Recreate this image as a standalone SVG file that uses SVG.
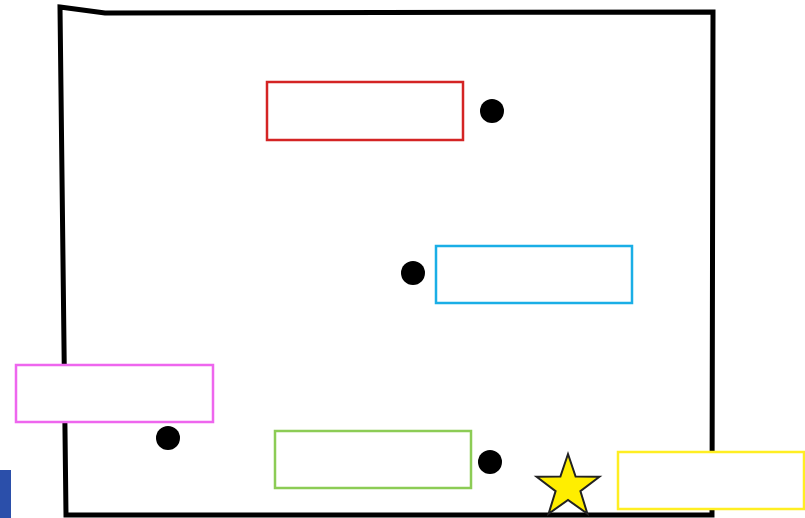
<svg xmlns="http://www.w3.org/2000/svg" width="805" height="518" viewBox="0 0 805 518">
<style>
.box{fill:#fff;stroke-width:2.5}
.dot{fill:#000}
</style>
<rect width="805" height="518" fill="#fff"/>
<g id="outline">
<path d="M60,7 L105,13 L713,12 L712,515 L66,515 Z" fill="none" stroke="#000" stroke-width="5" stroke-linejoin="miter"/>
</g>
<g id="edge-block"><rect x="0" y="470" width="11" height="48" fill="#2b4faa"/></g>
<g id="red"><rect class="box" x="267" y="82" width="196" height="58" stroke="#d42424"/></g>
<g id="dot1"><circle class="dot" cx="492" cy="111" r="12"/></g>
<g id="blue"><rect class="box" x="436" y="246" width="196" height="57" stroke="#1aaee6"/></g>
<g id="dot2"><circle class="dot" cx="413" cy="273" r="12"/></g>
<g id="magenta"><rect class="box" x="16" y="365" width="197" height="57" stroke="#ee66ee"/></g>
<g id="dot3"><circle class="dot" cx="168" cy="438" r="12"/></g>
<g id="green"><rect class="box" x="275" y="431" width="196" height="57" stroke="#8ccc55"/></g>
<g id="dot4"><circle class="dot" cx="490" cy="462" r="12"/></g>
<g id="star"><polygon points="568,454 575.6,476.5 599.4,476.8 580.4,491.1 587.4,513.7 568,500 548.6,513.7 555.6,491.1 536.6,476.8 560.4,476.5" fill="#ffee00" stroke="#222" stroke-width="2" stroke-linejoin="miter"/></g>
<g id="yellow"><rect class="box" x="618" y="452" width="186" height="57" stroke="#ffee22"/></g>
<g id="connectors"></g>
</svg>
